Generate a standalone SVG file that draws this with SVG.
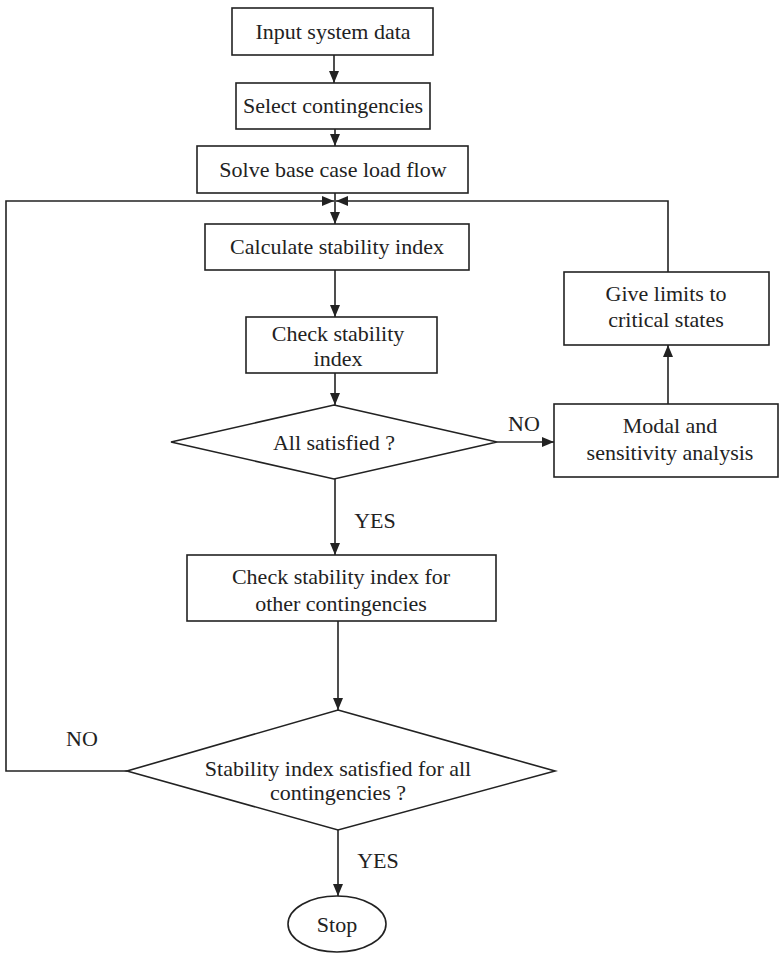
<svg xmlns="http://www.w3.org/2000/svg" width="780" height="956" viewBox="0 0 780 956">
<style>
.box{fill:#fff;stroke:#222;stroke-width:1.6}
.ln{fill:none;stroke:#222;stroke-width:1.6}
text{font-family:"Liberation Serif","Times New Roman",serif;font-size:22px;fill:#222;text-anchor:middle}
</style>
<defs>
<marker id="ah" markerWidth="12" markerHeight="10" refX="12" refY="5" orient="auto" markerUnits="userSpaceOnUse">
<path d="M0,0 L12,5 L0,10 Z" fill="#222"/>
</marker>
</defs>
<g id="connectors">
<line class="ln" x1="334" y1="55" x2="334" y2="83" marker-end="url(#ah)"/>
<line class="ln" x1="335" y1="129" x2="335" y2="146" marker-end="url(#ah)"/>
<line class="ln" x1="335" y1="193" x2="335" y2="224" marker-end="url(#ah)"/>
<polyline class="ln" points="127,771 6,771 6,201 334,201" marker-end="url(#ah)"/>
<polyline class="ln" points="668,272 668,201 336,201" marker-end="url(#ah)"/>
<line class="ln" x1="335" y1="270" x2="335" y2="317" marker-end="url(#ah)"/>
<line class="ln" x1="335" y1="373" x2="335" y2="405" marker-end="url(#ah)"/>
<line class="ln" x1="497" y1="442" x2="554" y2="442" marker-end="url(#ah)"/>
<line class="ln" x1="668" y1="404" x2="668" y2="345" marker-end="url(#ah)"/>
<line class="ln" x1="335" y1="479" x2="335" y2="555" marker-end="url(#ah)"/>
<line class="ln" x1="338" y1="621" x2="338" y2="710" marker-end="url(#ah)"/>
<line class="ln" x1="338" y1="830" x2="338" y2="896" marker-end="url(#ah)"/>
<text x="524" y="431">NO</text>
<text x="375" y="528">YES</text>
<text x="82" y="746">NO</text>
<text x="378" y="868">YES</text>
</g>
<g id="input">
<rect class="box" x="232" y="8" width="201" height="47"/>
<text x="333" y="39">Input system data</text>
</g>
<g id="select">
<rect class="box" x="236" y="83" width="194" height="46"/>
<text x="333" y="113">Select contingencies</text>
</g>
<g id="solve">
<rect class="box" x="197" y="146" width="271" height="47"/>
<text x="333" y="177">Solve base case load flow</text>
</g>
<g id="calc">
<rect class="box" x="205" y="224" width="264" height="46"/>
<text x="337" y="254">Calculate stability index</text>
</g>
<g id="check">
<rect class="box" x="246" y="317" width="191" height="56"/>
<text x="338" y="341">Check stability</text>
<text x="338" y="366">index</text>
</g>
<g id="allsat">
<polygon class="box" points="334,405 497,442 334,479 171,442"/>
<text x="334" y="450">All satisfied ?</text>
</g>
<g id="modal">
<rect class="box" x="554" y="404" width="224" height="73"/>
<text x="670" y="433">Modal and</text>
<text x="670" y="460">sensitivity analysis</text>
</g>
<g id="limits">
<rect class="box" x="564" y="272" width="205" height="73"/>
<text x="666" y="301">Give limits to</text>
<text x="666" y="327">critical states</text>
</g>
<g id="checkother">
<rect class="box" x="187" y="555" width="309" height="66"/>
<text x="341" y="584">Check stability index for</text>
<text x="341" y="611">other contingencies</text>
</g>
<g id="allcont">
<polygon class="box" points="338,710 555,771 338,830 127,771"/>
<text x="338" y="776">Stability index satisfied for all</text>
<text x="338" y="800">contingencies ?</text>
</g>
<g id="stop">
<ellipse class="box" cx="337" cy="924" rx="49" ry="28"/>
<text x="337" y="932">Stop</text>
</g>
</svg>
